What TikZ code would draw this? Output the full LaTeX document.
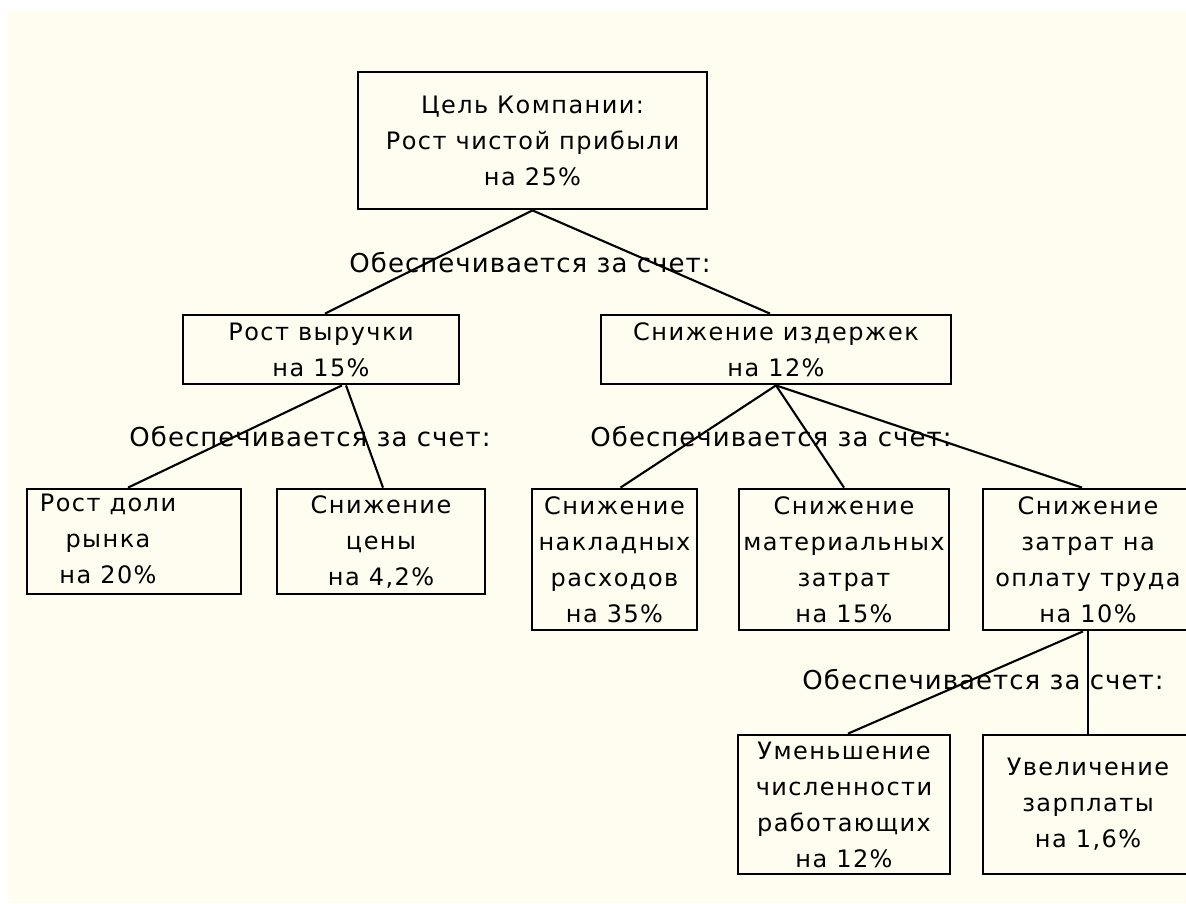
\documentclass[tikz,border=0pt]{standalone}
\usepackage{fontspec}
\newfontfamily\boxfam{DejaVu Sans}[LetterSpace=6]
\newfontfamily\notefam{DejaVu Sans}[LetterSpace=4]
\newcommand\diagboxfont{\boxfam\fontsize{24pt}{36pt}\selectfont}
\newcommand\diagnotefont{\notefam\fontsize{26pt}{30pt}\selectfont}
\definecolor{paper}{HTML}{FFFDF0}
\tikzset{
  box/.style={draw=black, line width=2.8pt, inner sep=0pt, align=center, font=\diagboxfont},
  txt/.style={inner sep=0pt, align=center, font=\diagboxfont},
  conn/.style={draw=black, line width=2.1pt},
  note/.style={inner sep=0pt, font=\diagnotefont}
}
\begin{document}
\begin{tikzpicture}[x=1pt, y=-1pt]
  \clip (0,0) rectangle (1186,903);
  \fill[white] (0,0) rectangle (1186,903);
  \fill[paper] (8,10) rectangle (1186,903);

  % goal
  \node[box, minimum width=349, minimum height=137] (goal) at (532.5,140.5)
    {Цель Компании:\\Рост чистой прибыли\\на 25\%};

  % second level
  \node[box, minimum width=276, minimum height=69] (rev) at (321,349.5)
    {Рост выручки\\на 15\%};
  \node[box, minimum width=350, minimum height=69] (cost) at (776,349.5)
    {Снижение издержек\\на 12\%};

  % third level
  \node[box, minimum width=214, minimum height=105] (share) at (134,541.5) {};
  \node[txt] (sharetext) at (108,538.5) {Рост доли\\рынка\\на 20\%};
  \node[box, minimum width=208, minimum height=105] (price) at (381,541.5)
    {Снижение\\цены\\на 4,2\%};
  \node[box, minimum width=165, minimum height=141] (overhead) at (614.5,559.5)
    {Снижение\\накладных\\расходов\\на 35\%};
  \node[box, minimum width=210, minimum height=141] (material) at (844,559.5)
    {Снижение\\материальных\\затрат\\на 15\%};
  \node[box, minimum width=210, minimum height=141] (labour) at (1088,559.5)
    {Снижение\\затрат на\\оплату труда\\на 10\%};

  % fourth level
  \node[box, minimum width=212, minimum height=139] (headcount) at (844,804.5)
    {Уменьшение\\численности\\работающих\\на 12\%};
  \node[box, minimum width=210, minimum height=139] (wage) at (1088,804.5)
    {Увеличение\\зарплаты\\на 1,6\%};

  % connectors
  \draw[conn] (goal.south) -- ([xshift=4pt]rev.north);
  \draw[conn] (goal.south) -- ([xshift=-6pt]cost.north);
  \draw[conn] ([xshift=21pt]rev.south) -- ([xshift=-6pt]share.north);
  \draw[conn] ([xshift=25pt]rev.south) -- ([xshift=2pt]price.north);
  \draw[conn] (cost.south) -- ([xshift=6pt]overhead.north);
  \draw[conn] (cost.south) -- (material.north);
  \draw[conn] (cost.south) -- ([xshift=-6pt]labour.north);
  \draw[conn] ([xshift=-5pt]labour.south) -- ([xshift=4pt]headcount.north);
  \draw[conn] (labour.south) -- (wage.north);

  % connector labels
  \node[note] (n1) at (530,263) {Обеспечивается за счет:};
  \node[note] (n2) at (310,437) {Обеспечивается за счет:};
  \node[note] (n3) at (771,437) {Обеспечивается за счет:};
  \node[note] (n4) at (983,680) {Обеспечивается за счет:};
\end{tikzpicture}
\end{document}
